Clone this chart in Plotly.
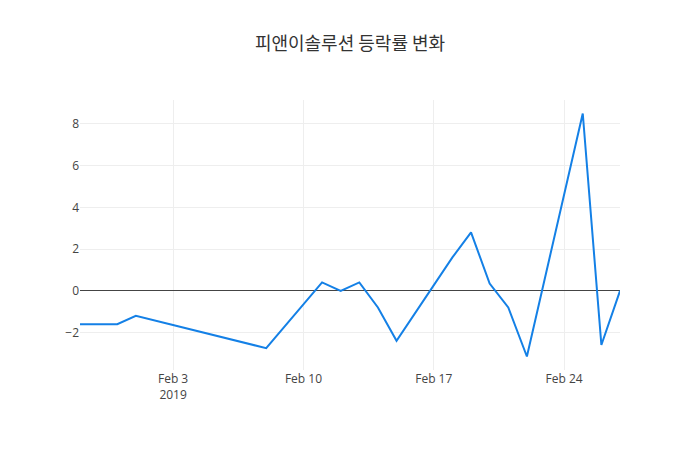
import plotly.graph_objects as go

# 일별 등락률 (%)
dates = ['2019-01-29', '2019-01-30', '2019-01-31', '2019-02-01', '2019-02-08',
         '2019-02-11', '2019-02-12', '2019-02-13', '2019-02-14', '2019-02-15',
         '2019-02-18', '2019-02-19', '2019-02-20', '2019-02-21', '2019-02-22',
         '2019-02-25', '2019-02-26', '2019-02-27']
change = [-1.6, -1.6, -1.6, -1.2, -2.75,
          0.4, 0.0, 0.4, -0.8, -2.4,
          1.6, 2.8, 0.35, -0.8, -3.15,
          8.5, -2.6, 0.0]

fig = go.Figure()
fig.add_trace(go.Scatter(x=dates, y=change, mode='lines',
                         line=dict(color='#1480e6', width=2)))

fig.update_layout(
    width=700, height=450,
    title=dict(text='피앤이솔루션 등락률 변화', x=0.5, xanchor='center',
               font=dict(family='Noto Sans CJK KR', size=18, color='#333')),
    font=dict(family='Open Sans', size=12, color='#444'),
    plot_bgcolor='white', paper_bgcolor='white',
    margin=dict(l=80, r=80, t=100, b=80),
    showlegend=False,
)
fig.update_xaxes(showgrid=True, gridcolor='#eee', zeroline=False, showline=False)
fig.update_yaxes(showgrid=True, gridcolor='#eee', zeroline=True,
                 zerolinecolor='#444', zerolinewidth=1, showline=False)

# body 기본 여백 제거 -> 창 왼쪽 위에 딱 맞게
fig.write_html('out.html', config={'displayModeBar': False},
               post_script="document.body.style.margin='0';")
